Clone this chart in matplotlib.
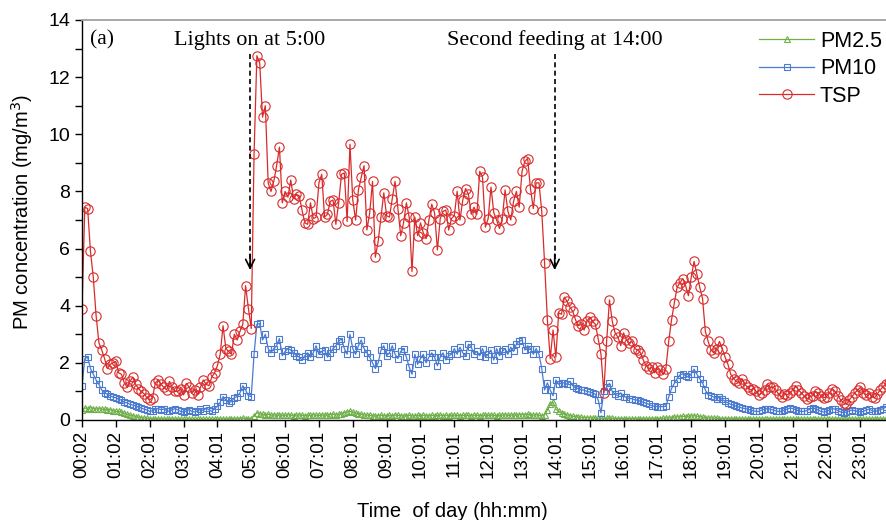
import numpy as np
import matplotlib.pyplot as plt

# 5-min readings starting at 00:02, one row per hour
tsp = [
    3.9, 7.45, 7.4, 5.9, 5.0, 3.65, 2.7, 2.45, 2.15, 1.8, 1.95, 2.0,
    2.05, 1.65, 1.6, 1.3, 1.15, 1.35, 1.5, 1.25, 1.1, 1.0, 0.92, 0.78,
    0.7, 0.78, 1.3, 1.4, 1.25, 1.15, 1.05, 1.35, 1.15, 1.0, 1.0, 1.1,
    0.88, 1.28, 1.15, 0.95, 1.05, 0.88, 1.15, 1.4, 1.25, 1.2, 1.5, 1.65,
    1.9, 2.3, 3.3, 2.5, 2.4, 2.3, 3.0, 2.8, 3.1, 3.35, 4.7, 3.9,
    3.2, 9.3, 12.75, 12.5, 10.6, 11.0, 8.3, 8.0, 8.35, 8.9, 9.55, 7.6,
    8.0, 7.8, 8.4, 7.75, 7.9, 7.85, 7.35, 6.9, 6.85, 7.6, 7.05, 7.1,
    8.3, 8.6, 7.1, 7.2, 7.65, 7.7, 6.85, 7.6, 8.6, 8.65, 6.95, 9.65,
    7.7, 7.0, 8.05, 8.5, 8.9, 6.65, 7.25, 8.35, 5.7, 6.25, 7.1, 7.95,
    7.15, 7.1, 7.75, 8.35, 7.4, 6.45, 6.9, 7.6, 7.1, 5.2, 7.1, 6.45,
    6.9, 6.55, 6.35, 7.0, 7.55, 7.25, 5.95, 7.05, 7.3, 7.35, 6.65, 7.05,
    7.15, 8.0, 7.0, 7.7, 8.1, 7.9, 7.2, 7.45, 7.2, 8.7, 8.5, 6.75,
    7.05, 8.15, 7.25, 7.0, 6.7, 7.05, 8.05, 7.3, 7.0, 7.65, 8.0, 7.45,
    8.7, 9.05, 9.15, 8.1, 7.4, 8.3, 8.3, 7.3, 5.5, 3.5, 2.15, 3.15,
    2.2, 3.75, 3.7, 4.3, 4.15, 3.95, 3.8, 3.5, 3.3, 3.35, 3.15, 3.45,
    3.6, 3.45, 3.35, 2.85, 2.3, 0.95, 2.75, 4.2, 3.45, 3.05, 2.9, 2.6,
    3.05, 2.8, 2.7, 2.75, 2.5, 2.45, 2.35, 2.1, 1.9, 1.8, 1.85, 1.65,
    1.85, 1.75, 1.6, 1.8, 2.75, 3.5, 4.1, 4.65, 4.8, 4.95, 4.7, 4.35,
    5.0, 5.55, 5.1, 4.65, 4.25, 3.1, 2.75, 2.45, 2.35, 2.5, 2.75, 2.5,
    2.2, 1.95, 1.6, 1.45, 1.35, 1.3, 1.45, 1.25, 1.15, 1.05, 1.1, 1.0,
    0.88, 0.95, 1.05, 1.25, 1.15, 1.15, 1.05, 0.9, 0.82, 0.92, 0.88, 0.95,
    1.05, 1.2, 1.05, 0.95, 0.85, 0.75, 0.8, 0.85, 1.0, 0.95, 0.85, 0.78,
    0.82, 0.95, 1.1, 1.0, 0.85, 0.7, 0.6, 0.55, 0.7, 0.82, 0.95, 1.05,
    1.15, 0.95, 0.88, 0.95, 0.82, 0.78, 0.92, 1.05, 1.17, 1.25, 1.3, 1.3,
]

pm10 = [
    1.2, 2.15, 2.2, 1.8, 1.6, 1.4, 1.25, 1.05, 0.95, 0.9, 0.85, 0.8,
    0.78, 0.72, 0.7, 0.62, 0.6, 0.55, 0.52, 0.5, 0.45, 0.42, 0.38, 0.35,
    0.3, 0.32, 0.38, 0.4, 0.36, 0.38, 0.33, 0.3, 0.36, 0.4, 0.35, 0.3,
    0.28, 0.32, 0.36, 0.3, 0.28, 0.32, 0.38, 0.33, 0.42, 0.36, 0.3, 0.4,
    0.48, 0.62, 0.82, 0.7, 0.6, 0.65, 0.78, 0.82, 0.95, 1.2, 1.05, 0.85,
    0.82, 2.3, 3.35, 3.38, 2.8, 3.0, 2.5, 2.35, 2.5, 2.6, 2.85, 2.25,
    2.4, 2.5, 2.45, 2.35, 2.25, 2.2, 2.1, 2.25, 2.35, 2.2, 2.35, 2.6,
    2.3, 2.4, 2.45, 2.2, 2.35, 2.5, 2.6, 2.75, 2.85, 2.5, 2.3, 3.0,
    2.5, 2.3, 2.6, 2.8, 2.5, 2.35, 2.2, 2.0, 1.8, 2.0, 2.45, 2.6,
    2.25, 2.35, 2.6, 2.3, 2.15, 2.4, 2.5, 2.2, 1.85, 1.6, 2.3, 1.95,
    2.15, 2.3, 2.0, 2.2, 2.35, 2.2, 1.9, 2.2, 2.35, 2.1, 2.25, 2.3,
    2.5, 2.3, 2.55, 2.35, 2.25, 2.65, 2.55, 2.3, 2.4, 2.25, 2.5, 2.2,
    2.3, 2.45, 2.1, 2.5, 2.25, 2.4, 2.5, 2.3, 2.55, 2.4, 2.65, 2.75,
    2.8, 2.45, 2.6, 2.5, 2.3, 2.5, 2.3, 1.8, 1.05, 1.3, 1.05, 0.85,
    1.4, 1.25, 1.3, 1.3, 1.25, 1.35, 1.2, 1.12, 1.1, 1.05, 1.05, 1.0,
    0.98, 0.95, 0.9, 0.7, 0.25, 1.0, 1.15, 1.28, 1.0, 0.9, 0.85, 0.95,
    0.82, 0.8, 0.75, 0.75, 0.7, 0.7, 0.65, 0.62, 0.58, 0.55, 0.5, 0.48,
    0.47, 0.47, 0.47, 0.48, 0.8, 1.1, 1.28, 1.45, 1.58, 1.62, 1.55, 1.5,
    1.62, 1.78, 1.6, 1.45, 1.3, 1.05, 0.88, 0.85, 0.8, 0.75, 0.8, 0.72,
    0.65, 0.6, 0.55, 0.52, 0.48, 0.45, 0.42, 0.4, 0.38, 0.35, 0.32, 0.3,
    0.3, 0.35, 0.38, 0.4, 0.38, 0.35, 0.32, 0.3, 0.3, 0.35, 0.38, 0.42,
    0.4, 0.36, 0.32, 0.3, 0.3, 0.33, 0.38, 0.42, 0.4, 0.35, 0.3, 0.28,
    0.3, 0.35, 0.4, 0.38, 0.33, 0.28, 0.26, 0.28, 0.32, 0.35, 0.32, 0.3,
    0.28, 0.3, 0.35, 0.38, 0.33, 0.3, 0.32, 0.36, 0.4, 0.45, 0.48, 0.5,
]

pm25 = [
    0.35, 0.42, 0.4, 0.43, 0.4, 0.38, 0.4, 0.37, 0.38, 0.35, 0.36, 0.33,
    0.3, 0.3, 0.27, 0.24, 0.2, 0.17, 0.15, 0.12, 0.1, 0.08, 0.07, 0.06,
    0.05, 0.05, 0.04, 0.04, 0.04, 0.04, 0.03, 0.03, 0.04, 0.03, 0.03, 0.03,
    0.03, 0.02, 0.03, 0.03, 0.02, 0.02, 0.03, 0.03, 0.02, 0.02, 0.03, 0.03,
    0.03, 0.04, 0.04, 0.03, 0.04, 0.05, 0.04, 0.05, 0.05, 0.06, 0.05, 0.05,
    0.05, 0.15, 0.25, 0.22, 0.2, 0.18, 0.2, 0.17, 0.18, 0.16, 0.18, 0.17,
    0.16, 0.18, 0.17, 0.15, 0.17, 0.18, 0.16, 0.15, 0.17, 0.16, 0.18, 0.17,
    0.16, 0.17, 0.18, 0.17, 0.19, 0.2, 0.18, 0.2, 0.22, 0.25, 0.28, 0.3,
    0.27, 0.25, 0.22, 0.2, 0.18, 0.17, 0.16, 0.15, 0.14, 0.15, 0.16, 0.15,
    0.15, 0.16, 0.15, 0.17, 0.16, 0.15, 0.14, 0.15, 0.16, 0.14, 0.15, 0.16,
    0.15, 0.16, 0.15, 0.14, 0.16, 0.15, 0.16, 0.17, 0.15, 0.16, 0.15, 0.16,
    0.17, 0.16, 0.15, 0.16, 0.17, 0.16, 0.15, 0.17, 0.16, 0.15, 0.16, 0.17,
    0.16, 0.17, 0.16, 0.15, 0.16, 0.17, 0.18, 0.16, 0.17, 0.18, 0.17, 0.18,
    0.19, 0.18, 0.2, 0.18, 0.17, 0.18, 0.16, 0.15, 0.18, 0.35, 0.55, 0.62,
    0.38, 0.3, 0.26, 0.22, 0.18, 0.15, 0.13, 0.12, 0.1, 0.09, 0.08, 0.08,
    0.08, 0.07, 0.07, 0.06, 0.06, 0.05, 0.06, 0.07, 0.06, 0.05, 0.05, 0.05,
    0.05, 0.05, 0.04, 0.05, 0.05, 0.04, 0.04, 0.05, 0.04, 0.04, 0.05, 0.05,
    0.05, 0.05, 0.06, 0.06, 0.07, 0.08, 0.1, 0.11, 0.12, 0.13, 0.12, 0.13,
    0.14, 0.15, 0.13, 0.12, 0.1, 0.08, 0.07, 0.07, 0.06, 0.06, 0.05, 0.05,
    0.05, 0.05, 0.04, 0.04, 0.05, 0.04, 0.04, 0.04, 0.03, 0.04, 0.04, 0.03,
    0.03, 0.04, 0.03, 0.03, 0.04, 0.03, 0.03, 0.03, 0.04, 0.03, 0.03, 0.03,
    0.03, 0.03, 0.04, 0.03, 0.03, 0.03, 0.04, 0.03, 0.03, 0.03, 0.03, 0.04,
    0.03, 0.03, 0.03, 0.04, 0.03, 0.03, 0.03, 0.03, 0.04, 0.03, 0.03, 0.03,
    0.03, 0.04, 0.03, 0.03, 0.03, 0.04, 0.03, 0.03, 0.03, 0.04, 0.04, 0.04,
]

tick_labels = ['00:02', '01:02'] + [f'{h:02d}:01' for h in range(2, 24)]
events = [('Lights on at 5:00', 5 * 60), ('Second feeding at 14:00', 14 * 60)]

RED = '#d92b2b'
BLUE = '#4a7bd0'
GREEN = '#6fb04a'

x = np.arange(len(tsp))

fig = plt.figure(figsize=(8.87, 5.2), dpi=100)
ax = fig.add_axes([82 / 887, 100 / 520, 1 - 82 / 887, 400 / 520])

ax.plot(x, pm25, color=GREEN, lw=0.9, marker='^', ms=3.8, mfc='none', mew=0.8, label='PM2.5')
ax.plot(x, pm10, color=BLUE, lw=0.9, marker='s', ms=4.4, mfc='none', mew=0.8, label='PM10')
ax.plot(x, tsp, color=RED, lw=0.9, marker='o', ms=6.7, mfc='none', mew=0.8, label='TSP')

# event arrows (x position from clock time, 5-min steps starting at 00:02)
for text, minutes in events:
    xi = (minutes - 2) / 5
    ax.plot([xi, xi], [12.8, 5.35], color='black', lw=1.2, ls=(0, (3, 2)))
    ax.annotate('', xy=(xi, 5.15), xytext=(xi, 5.9),
                arrowprops=dict(arrowstyle='->', color='black', lw=1.2, mutation_scale=16))
    ax.text(xi, 13.3, text, ha='center', va='center', fontsize=16, family='Liberation Serif')

ax.text(2.8, 13.3, '(a)', ha='left', va='center', fontsize=15.5, family='Liberation Serif')

ax.set_xlim(0, 285.4)
ax.set_ylim(0, 14)
ax.set_xticks(np.arange(0, 288, 12))
ax.set_xticklabels(tick_labels, rotation=90, fontsize=13.5, family='Liberation Sans')
ax.set_yticks(np.arange(0, 15, 2))
ax.set_yticks(np.arange(0, 15, 1), minor=True)
ax.tick_params(axis='y', labelsize=14, length=5, width=1, direction='out')
ax.tick_params(axis='y', which='minor', length=5, width=1, direction='out')
ax.tick_params(axis='x', length=5, width=1, direction='out', pad=3)
for lab in ax.get_yticklabels():
    lab.set_family('Liberation Sans')

ax.spines['right'].set_visible(False)
ax.spines['top'].set_color('#a0a0a0')
ax.spines['top'].set_linewidth(1.3)
ax.spines['left'].set_linewidth(1.0)
ax.spines['bottom'].set_linewidth(1.0)

ax.set_ylabel('PM concentration (mg/m$^3$)', fontsize=14.5, family='Liberation Sans')
ax.yaxis.set_label_coords(-0.058, 0.52)
ax.set_xlabel('Time  of day (hh:mm)', fontsize=14.5, family='Liberation Sans')
ax.xaxis.set_label_coords(0.46, -0.205)

leg = ax.legend(loc='upper right', bbox_to_anchor=(1.007, 1.0), frameon=False,
                prop={'family': 'Liberation Sans', 'size': 15.5},
                handlelength=2.6, handletextpad=0.25, labelspacing=0.3, borderaxespad=0.1)

fig.savefig('out.png', dpi=100)
